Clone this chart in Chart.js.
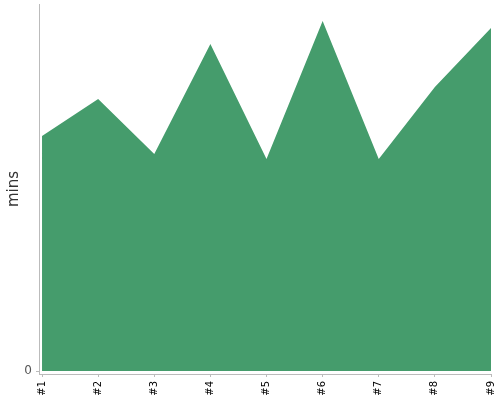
<!DOCTYPE html>
<html><head><meta charset="utf-8">
<script src="https://cdn.jsdelivr.net/npm/chart.js@4"></script>
<style>html,body{margin:0;padding:0;background:#fff}#wrap{width:500px;height:400px}</style>
</head><body><div id="wrap"><canvas id="c" width="500" height="400"></canvas></div>
<script>
const categories = ['#1', '#2', '#3', '#4', '#5', '#6', '#7', '#8', '#9'];
const minutes = [23.5, 27.2, 21.7, 32.7, 21.2, 35.0, 21.2, 28.4, 34.3];
const yTicks = [0];
const yTitle = 'mins';

const points = categories.map((c, i) => ({ x: i, y: minutes[i] }));

function noPad(s) {
  s.paddingTop = 0; s.paddingBottom = 0; s.paddingLeft = 0; s.paddingRight = 0;
}

new Chart(document.getElementById('c'), {
  type: 'line',
  data: {
    datasets: [{
      data: points,
      fill: 'origin',
      backgroundColor: '#459c6c',
      borderColor: '#459c6c',
      borderWidth: 0,
      pointRadius: 0,
      tension: 0
    }]
  },
  options: {
    responsive: false,
    animation: false,
    layout: { padding: { top: 4, right: 9, left: 5, bottom: 0 } },
    plugins: { legend: { display: false }, tooltip: { enabled: false } },
    scales: {
      x: {
        type: 'linear',
        min: -0.054,
        max: categories.length - 1,
        afterBuildTicks: s => { s.ticks = categories.map((_, i) => ({ value: i })); },
        afterFit: s => { s.height = 26; noPad(s); },
        grid: { drawOnChartArea: false, tickLength: 3, color: '#bbb' },
        border: { color: '#bbb' },
        ticks: {
          autoSkip: false, maxRotation: 90, minRotation: 90, padding: 4,
          color: '#000', font: { family: 'DejaVu Sans', size: 10 },
          callback: v => categories[v]
        }
      },
      y: {
        min: -0.3,
        max: 36.7,
        afterBuildTicks: s => { s.ticks = yTicks.map(v => ({ value: v })); },
        afterFit: s => { s.width = 34; noPad(s); },
        grid: { drawOnChartArea: false, tickLength: 3, color: '#bbb' },
        border: { color: '#bbb' },
        ticks: { color: '#555', padding: 4, font: { family: 'DejaVu Sans', size: 12 } },
        title: { display: true, text: yTitle, color: '#333', padding: 0, font: { family: 'DejaVu Sans', size: 15 } }
      }
    }
  }
});
</script></body></html>
